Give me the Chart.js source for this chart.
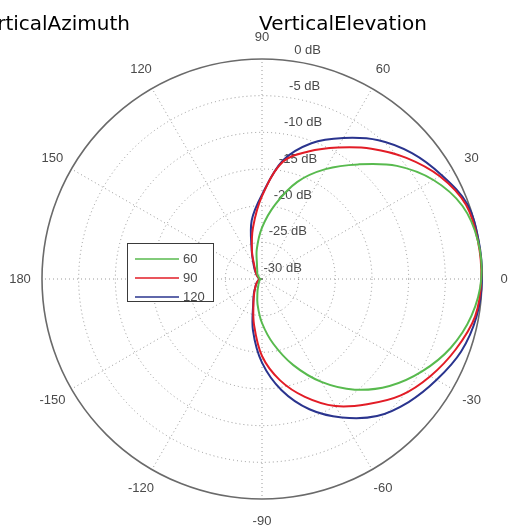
<!DOCTYPE html>
<html>
<head>
<meta charset="utf-8">
<script src="https://cdn.jsdelivr.net/npm/chart.js@4.4.1/dist/chart.umd.min.js"></script>
<style>
  html, body { margin: 0; padding: 0; background: #ffffff; }
  #wrap { width: 509px; height: 529px; position: relative; }
</style>
</head>
<body>
<div id="wrap"><canvas id="c" width="509" height="529"></canvas></div>
<script>
// Direction of each sample in degrees, in the order the radial scale walks round
// (clockwise on screen, starting from 0° on the right).
const angles = [0, -10, -20, -30, -40, -50, -60, -70, -80, -90, -100, -110, -120, -130, -140, -150, -160, -170,
                180, 170, 160, 150, 140, 130, 120, 110, 100, 90, 80, 70, 60, 50, 40, 30, 20, 10];

// Normalised gain in dB for each angle above.
const gain60  = [-0.1, -1.0, -2.6, -4.8, -7.3, -10.3, -13.8, -17.5, -21.0, -24.0, -26.5, -28.2, -29.0, -29.3, -29.5, -29.6, -29.7, -29.8,
                 -29.8, -29.7, -29.6, -29.5, -29.3, -29.0, -28.7, -28.0, -25.9, -23.0, -19.7, -15.9, -12.7, -9.6, -6.0, -3.0, -0.9, -0.1];
const gain90  = [-0.1, -0.5, -1.9, -3.5, -5.3, -7.7, -10.0, -12.9, -16.0, -19.5, -23.7, -26.6, -27.9, -28.6, -29.0, -29.3, -29.5, -29.6,
                 -29.7, -29.6, -29.5, -29.3, -29.0, -28.6, -27.9, -26.0, -22.9, -18.7, -13.8, -11.5, -9.3, -6.8, -4.3, -2.0, -0.4, -0.1];
const gain120 = [0.0, -0.3, -1.1, -2.5, -3.9, -5.6, -8.2, -11.1, -14.6, -18.6, -22.9, -26.5, -27.8, -28.6, -29.0, -29.3, -29.5, -29.6,
                 -29.7, -29.6, -29.5, -29.3, -29.0, -28.5, -27.7, -25.9, -21.9, -18.5, -13.6, -10.3, -7.8, -5.3, -3.3, -1.7, -0.2, 0.0];

const seriesLabels = ['60', '90', '120'];
const seriesColors = ['rgb(88,186,78)', 'rgb(226,28,38)', 'rgb(42,52,142)'];

// Radial axis: dB range and ring spacing; angle labels every 30°.
const dbMin = -30, dbMax = 0, dbStep = 5;
const angleTickLabels = [0, 30, 60, 90, 120, 150, 180, -150, -120, -90, -60, -30];
const titles = ['VerticalAzimuth', 'VerticalElevation'];

const GRID = 'rgba(120,120,120,0.75)';
const TEXT = '#4a4a4a';

// Solid outer rim, ring labels ("-30 dB" … "0 dB"), angle labels, legend and titles.
const polarDecor = {
  id: 'polarDecor',
  beforeDatasetsDraw(chart) {
    const s = chart.scales.r, ctx = chart.ctx;
    ctx.save();
    ctx.strokeStyle = '#6a6a6a';
    ctx.lineWidth = 1.6;
    ctx.beginPath();
    ctx.arc(s.xCenter, s.yCenter, s.getDistanceFromCenterForValue(dbMax), 0, Math.PI * 2);
    ctx.stroke();

    // ring labels along the 82° direction
    ctx.fillStyle = TEXT;
    ctx.font = '13px "Liberation Sans", Arial, sans-serif';
    ctx.textAlign = 'left';
    ctx.textBaseline = 'middle';
    const a = 82 * Math.PI / 180;
    s.ticks.forEach(t => {
      const d = s.getDistanceFromCenterForValue(t.value) + 11;
      const x = s.xCenter + Math.cos(a) * d;
      const y = s.yCenter - Math.sin(a) * d;
      ctx.fillText(t.value + ' dB', x, y);
    });

    // angle labels just outside the rim
    ctx.textAlign = 'center';
    const rLab = s.getDistanceFromCenterForValue(dbMax) * 1.1;
    angleTickLabels.forEach(deg => {
      const idx = angles.indexOf(deg);
      const p = s.getPointPosition(idx, rLab);
      ctx.fillText(String(deg), p.x, p.y);
    });
    ctx.restore();
  },
  afterDraw(chart) {
    const ctx = chart.ctx;
    ctx.save();
    // legend box
    const bx = 127, by = 243, bw = 86, bh = 58;
    ctx.fillStyle = '#ffffff';
    ctx.fillRect(bx, by, bw, bh);
    ctx.strokeStyle = '#3a3a3a';
    ctx.lineWidth = 1;
    ctx.strokeRect(bx + 0.5, by + 0.5, bw, bh);
    ctx.font = '13px "Liberation Sans", Arial, sans-serif';
    ctx.textBaseline = 'middle';
    ctx.textAlign = 'left';
    chart.data.datasets.forEach((ds, i) => {
      const y = by + 16 + i * 19;
      ctx.strokeStyle = ds.borderColor;
      ctx.lineWidth = 1.5;
      ctx.beginPath();
      ctx.moveTo(bx + 8, y);
      ctx.lineTo(bx + 52, y);
      ctx.stroke();
      ctx.fillStyle = TEXT;
      ctx.fillText(ds.label, bx + 56, y);
    });
    // titles
    ctx.fillStyle = '#000000';
    ctx.font = '20px "DejaVu Sans", sans-serif';
    ctx.textBaseline = 'alphabetic';
    ctx.textAlign = 'right';
    ctx.fillText(titles[0], 130, 30);
    ctx.textAlign = 'center';
    ctx.fillText(titles[1], 343, 30);
    ctx.restore();
  }
};

new Chart(document.getElementById('c'), {
  type: 'radar',
  data: {
    labels: angles.map(String),
    datasets: [gain60, gain90, gain120].map((vals, i) => ({
      label: seriesLabels[i],
      data: vals,
      borderColor: seriesColors[i],
      backgroundColor: 'transparent',
      borderWidth: 2,
      pointRadius: 0,
      fill: false,
      tension: 0.35
    }))
  },
  options: {
    responsive: false,
    animation: false,
    layout: { padding: { left: 42, right: 27, top: 59, bottom: 30 } },
    plugins: { legend: { display: false }, tooltip: { enabled: false }, title: { display: false } },
    scales: {
      r: {
        min: dbMin,
        max: dbMax,
        startAngle: 90,
        ticks: { display: false, stepSize: dbStep },
        pointLabels: { display: false },
        grid: {
          circular: true,
          color: ctx => (ctx.tick && ctx.tick.value === dbMax) ? 'transparent' : GRID,
          lineWidth: 1
        },
        border: { dash: [1, 3] },
        angleLines: {
          display: true,
          color: ctx => (angles[ctx.index] % 30 === 0) ? GRID : 'transparent',
          lineWidth: 1,
          borderDash: [1, 3]
        }
      }
    }
  },
  plugins: [polarDecor]
});
</script>
</body>
</html>
